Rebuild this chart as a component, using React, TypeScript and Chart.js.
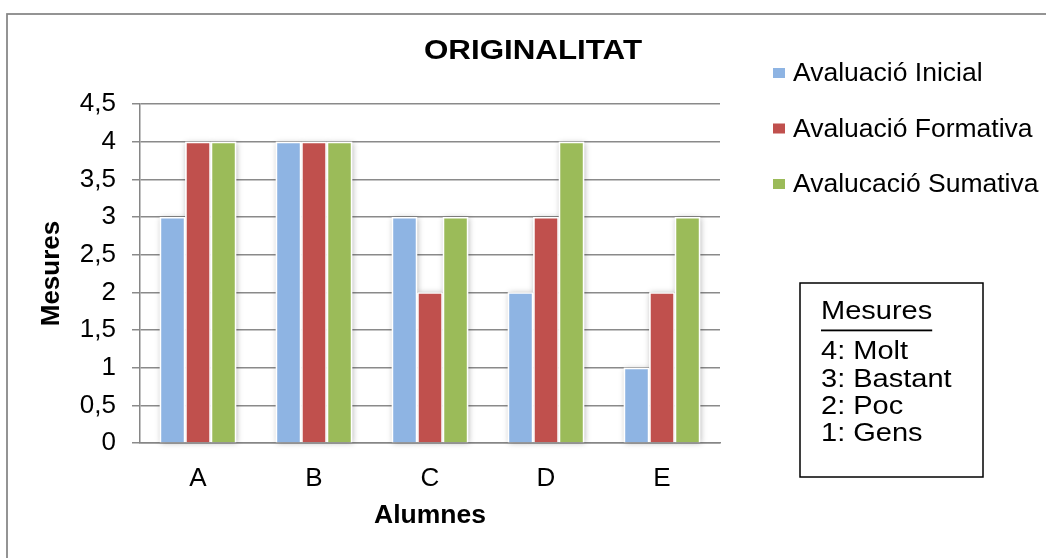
import React, { useEffect, useRef } from 'react';
import { Chart, registerables } from 'chart.js';

Chart.register(...registerables);

// ---- data ----
const CATEGORIES = ['A', 'B', 'C', 'D', 'E'];
const SERIES_NAMES = ['Avaluació Inicial', 'Avaluació Formativa', 'Avalucació Sumativa'];
const INICIAL = [3, 4, 3, 2, 1];
const FORMATIVA = [4, 4, 2, 3, 2];
const SUMATIVA = [4, 4, 3, 4, 3];
const SERIES_COLORS = ['#8EB4E3', '#C0504D', '#9BBB59'];
const Y_MIN = 0;
const Y_MAX = 4.5;
const Y_STEP = 0.5;
const TITLE = 'ORIGINALITAT';
const X_TITLE = 'Alumnes';
const Y_TITLE = 'Mesures';
const NOTE_TITLE = 'Mesures';
const NOTE_LINES = ['4: Molt', '3: Bastant', '2: Poc', '1: Gens'];

const FONT = '"Liberation Sans", Arial, sans-serif';
const AXIS_GRAY = '#868686';

const framePlugin = {
  id: 'frame',
  beforeDraw(chart: any) {
    const { ctx, width, height } = chart;
    ctx.save();
    ctx.fillStyle = '#ffffff';
    ctx.fillRect(0, 0, width, height);
    ctx.strokeStyle = AXIS_GRAY;
    ctx.lineWidth = 1.75;
    ctx.strokeRect(7, 14, width + 20, height + 20);
    ctx.restore();
  },
};

const shadowPlugin = {
  id: 'barShadow',
  beforeDatasetsDraw(chart: any) {
    const { ctx } = chart;
    ctx.save();
    ctx.shadowColor = 'rgba(0,0,0,0.28)';
    ctx.shadowBlur = 6;
    ctx.shadowOffsetX = 1;
    ctx.shadowOffsetY = 1;
    ctx.fillStyle = '#ffffff';
    chart.data.datasets.forEach((_: any, i: number) => {
      const meta = chart.getDatasetMeta(i);
      meta.data.forEach((el: any) => {
        const { x, y, base, width } = el.getProps(['x', 'y', 'base', 'width'], true);
        ctx.fillRect(x - width / 2, y, width, base - y);
      });
    });
    ctx.restore();
  },
};

function stretchedText(ctx: any, text: string, x: number, y: number, sx: number) {
  ctx.save();
  ctx.translate(x, y);
  ctx.scale(sx, 1);
  ctx.fillText(text, 0, 0);
  ctx.restore();
}

const overlayPlugin = {
  id: 'overlay',
  afterDraw(chart: any) {
    const { ctx } = chart;
    ctx.save();
    // title
    ctx.fillStyle = '#000';
    ctx.textAlign = 'center';
    ctx.textBaseline = 'middle';
    ctx.font = `bold 27px ${FONT}`;
    stretchedText(ctx, TITLE, 533, 52, 1.16);

    // legend
    const legendYs = [73, 128.5, 184];
    ctx.font = `26.5px ${FONT}`;
    ctx.textAlign = 'left';
    chart.data.datasets.forEach((ds: any, i: number) => {
      const y = legendYs[i];
      ctx.fillStyle = ds.backgroundColor;
      ctx.fillRect(773, y - 5, 12, 10);
      ctx.fillStyle = '#000';
      ctx.fillText(ds.label, 793, y + 1);
    });

    // note box
    ctx.strokeStyle = '#000';
    ctx.lineWidth = 1.5;
    ctx.strokeRect(800, 283, 183, 194);
    ctx.font = `25px ${FONT}`;
    ctx.fillStyle = '#000';
    const sx = 1.16;
    stretchedText(ctx, NOTE_TITLE, 821, 312, sx);
    const w = ctx.measureText(NOTE_TITLE).width * sx;
    ctx.fillRect(821, 329.5, w, 1.8);
    const noteYs = [352.5, 380, 407, 434.5];
    NOTE_LINES.forEach((t, i) => stretchedText(ctx, t, 821, noteYs[i], sx));
    ctx.restore();
  },
};

export default function App() {
  const ref = useRef<HTMLCanvasElement | null>(null);
  useEffect(() => {
    document.body.style.margin = '0';
    const canvas = ref.current!;
    const chart = new Chart(canvas, {
      type: 'bar',
      data: {
        labels: CATEGORIES,
        datasets: [INICIAL, FORMATIVA, SUMATIVA].map((d, i) => ({
          label: SERIES_NAMES[i],
          data: d,
          backgroundColor: SERIES_COLORS[i],
          borderColor: '#ffffff',
          borderWidth: 1.5,
          categoryPercentage: 0.66,
          barPercentage: 1.0,
        })),
      },
      options: {
        responsive: false,
        animation: false,
        layout: { padding: { left: 0, top: 104, right: 326, bottom: 0 } },
        plugins: {
          legend: { display: false },
          title: { display: false },
          tooltip: { enabled: false },
        },
        scales: {
          x: {
            grid: { display: false, drawTicks: false },
            border: { display: true, color: AXIS_GRAY, width: 1.5 },
            ticks: { color: '#000', font: { family: FONT, size: 26 }, padding: 20 },
            title: {
              display: true,
              text: X_TITLE,
              color: '#000',
              font: { family: FONT, size: 26.5, weight: 'bold' },
              padding: { top: 0, bottom: 26 },
            },
            afterFit: (s: any) => { s.height = 115; },
          },
          y: {
            min: Y_MIN,
            max: Y_MAX,
            ticks: {
              stepSize: Y_STEP,
              color: '#000',
              font: { family: FONT, size: 26 },
              padding: 16,
              callback: (v: any) => String(v).replace('.', ','),
            },
            grid: { color: '#8a8a8a', lineWidth: 1.5, tickLength: 8, drawTicks: true },
            border: { display: true, color: AXIS_GRAY, width: 1.5 },
            title: {
              display: true,
              text: Y_TITLE,
              color: '#000',
              font: { family: FONT, size: 26, weight: 'bold' },
              padding: { top: 36, bottom: 0 },
            },
            afterFit: (s: any) => { s.width = 140; },
          },
        },
      },
      plugins: [framePlugin, shadowPlugin, overlayPlugin],
    });
    return () => chart.destroy();
  }, []);
  return (
    <div style={{ width: 1046, height: 558 }}>
      <canvas ref={ref} width={1046} height={558} style={{ display: 'block', width: 1046, height: 558 }} />
    </div>
  );
}
